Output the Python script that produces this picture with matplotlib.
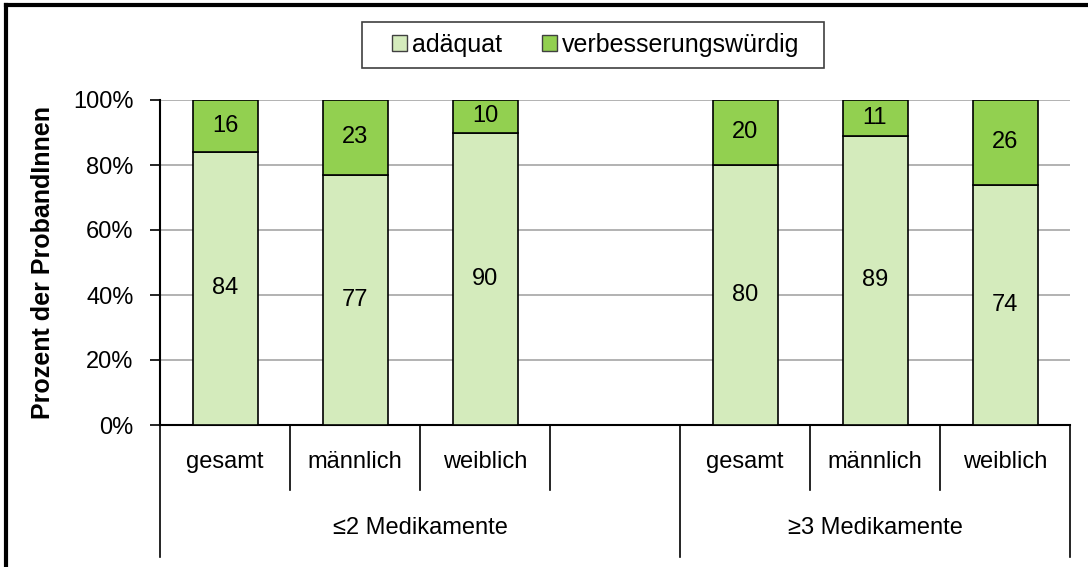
import matplotlib
matplotlib.use("Agg")
import matplotlib.pyplot as plt
from matplotlib.lines import Line2D
from matplotlib.patches import Patch, Rectangle

plt.rcParams['font.family'] = ['Liberation Sans', 'DejaVu Sans']

categories = ["gesamt", "männlich", "weiblich", "", "gesamt", "männlich", "weiblich"]
groups = ["≤2 Medikamente", "≥3 Medikamente"]
adaequat = [84, 77, 90, None, 80, 89, 74]
verbesserung = [16, 23, 10, None, 20, 11, 26]
series_names = ["adäquat", "verbesserungswürdig"]
yticks = [0, 20, 40, 60, 80, 100]
ytick_labels = ["0%", "20%", "40%", "60%", "80%", "100%"]

c_light = "#d4ebbc"
c_dark = "#92d050"
FS = 17

W, H = 1088, 567
fig = plt.figure(figsize=(W / 100, H / 100), dpi=100)
ax = fig.add_axes([160 / W, 1 - 425 / H, (1070 - 160) / W, (425 - 100) / H])

for i, (a, v) in enumerate(zip(adaequat, verbesserung)):
    if a is None:
        continue
    ax.bar(i, a, width=0.5, color=c_light, edgecolor="black", linewidth=1.2, zorder=3)
    ax.bar(i, v, width=0.5, bottom=a, color=c_dark, edgecolor="black", linewidth=1.2, zorder=3)
    ax.text(i, a / 2, str(a), ha="center", va="center", fontsize=FS, zorder=4)
    ax.text(i, a + v / 2, str(v), ha="center", va="center", fontsize=FS, zorder=4)

ax.set_xlim(-0.5, len(categories) - 0.5)
ax.set_ylim(0, 100)
ax.set_yticks(yticks)
ax.set_yticklabels(ytick_labels, fontsize=FS)
ax.yaxis.grid(True, color="#a6a6a6", linewidth=1.2, zorder=0)
ax.set_axisbelow(True)
ax.set_xticks([])
for s in ["top", "right"]:
    ax.spines[s].set_visible(False)
ax.spines["left"].set_linewidth(1.5)
ax.spines["bottom"].set_linewidth(1.5)
ax.tick_params(axis="y", direction="out", length=7, width=1.2, pad=12)

ax.set_ylabel("Prozent der ProbandInnen", fontsize=18, fontweight="bold", labelpad=13)

trans = ax.get_xaxis_transform()
n = len(categories)
for k in range(n + 1):
    x = k - 0.5
    full = (k == 0 or k == n or k == 4)
    y_end = -0.406 if full else -0.2
    ax.add_line(Line2D([x, x], [0, y_end], transform=trans, color="black",
                       linewidth=1.2, clip_on=False))
for i, c in enumerate(categories):
    if c:
        ax.text(i, -0.114, c, transform=trans, ha="center", va="center", fontsize=FS)
ax.text(1.5, -0.317, groups[0], transform=trans, ha="center", va="center", fontsize=FS)
ax.text(5.0, -0.317, groups[1], transform=trans, ha="center", va="center", fontsize=FS)

handles = [Patch(facecolor=c_light, edgecolor="#404040", linewidth=1),
           Patch(facecolor=c_dark, edgecolor="#404040", linewidth=1)]
leg = fig.legend(handles, series_names, loc="center", bbox_to_anchor=(596 / W, 1 - 45 / H),
                 ncol=2, fontsize=18, frameon=False, handlelength=0.6,
                 handleheight=0.6, handletextpad=0.2, columnspacing=1.6,
                 borderpad=0.0, borderaxespad=0)
fig.add_artist(Rectangle((362 / W, 1 - 68 / H), (824 - 362) / W, 46 / H,
                         transform=fig.transFigure, facecolor="none",
                         edgecolor="#404040", linewidth=1.2))

fig.add_artist(Line2D([6 / W, 6 / W], [0, 1 - 5 / H], transform=fig.transFigure,
                      color="black", linewidth=3))
fig.add_artist(Line2D([6 / W, 1], [1 - 5 / H, 1 - 5 / H], transform=fig.transFigure,
                      color="black", linewidth=3))

fig.savefig("out.png", dpi=100)
